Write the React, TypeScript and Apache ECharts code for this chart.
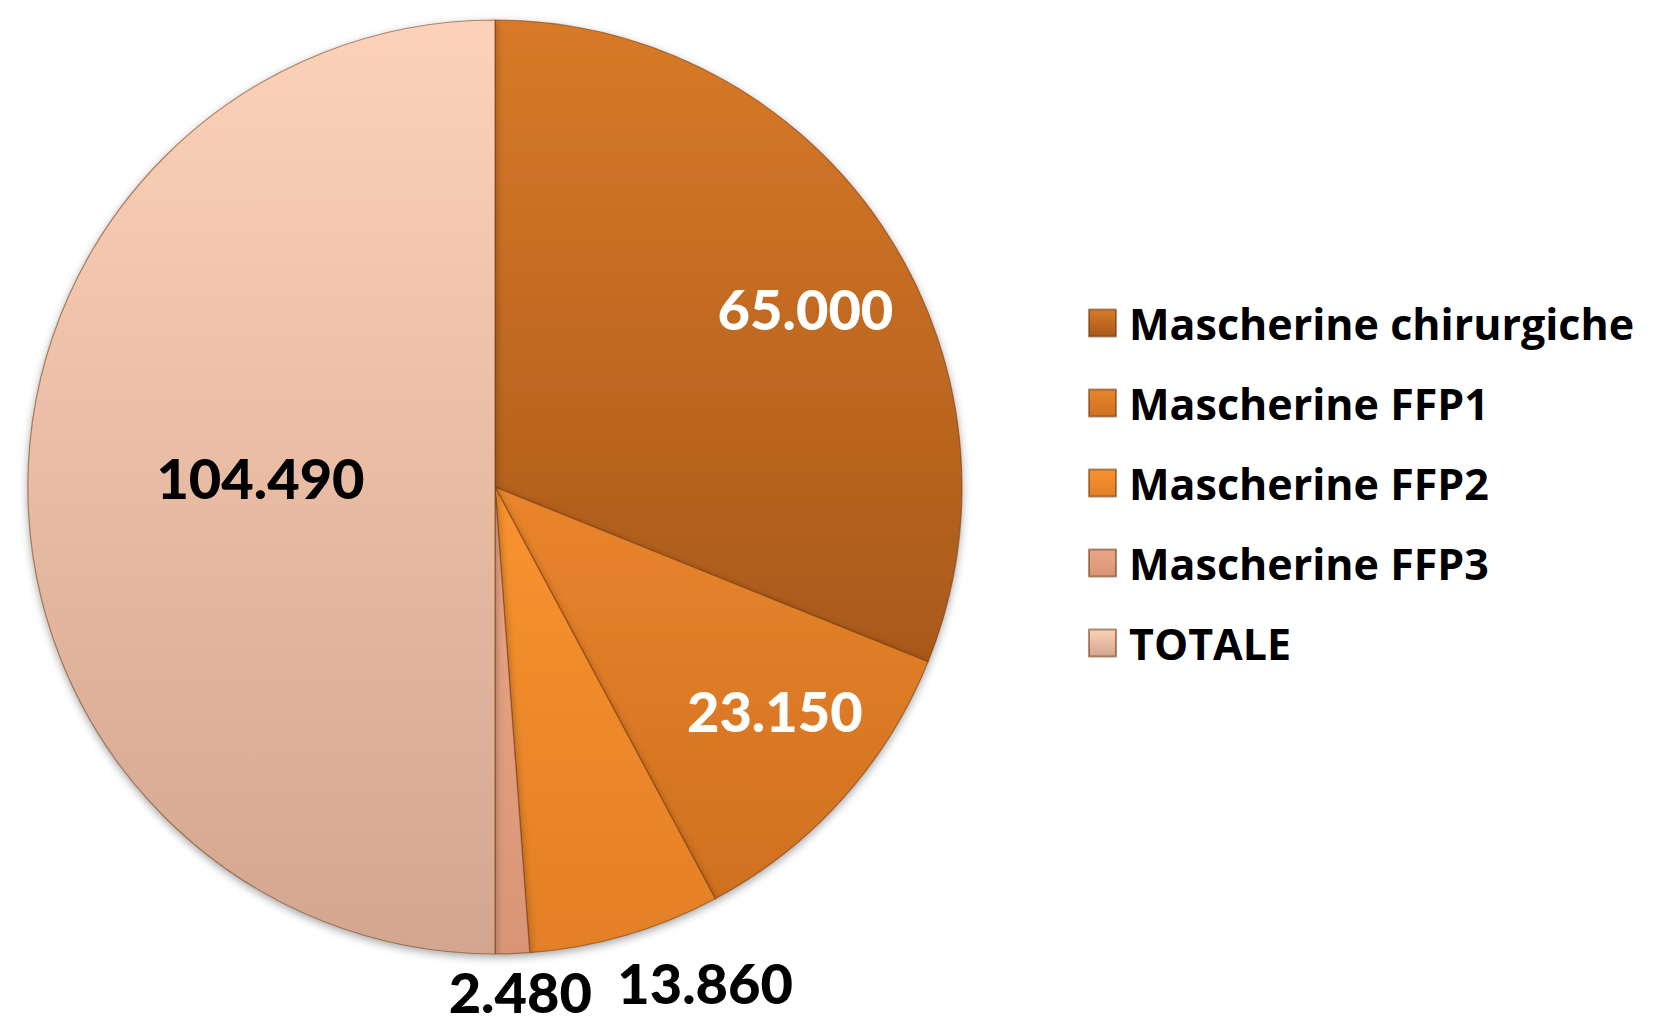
import React, { useEffect, useRef } from "react";
import * as echarts from "echarts";

const categories = [
  "Mascherine chirurgiche",
  "Mascherine FFP1",
  "Mascherine FFP2",
  "Mascherine FFP3",
  "TOTALE",
];
const values = [65000, 23150, 13860, 2480, 104490];
const labelTexts = ["65.000", "23.150", "13.860", "2.480", "104.490"];

const gradTop = ["#D87A29", "#E9852D", "#F8932F", "#EBA586", "#FCD2B8"];
const gradBottom = ["#A95919", "#D0701F", "#E37F26", "#D89677", "#D3A68F"];

const FONT = "Lato, 'Open Sans', sans-serif";
const LEGEND_FONT = "'Open Sans', Lato, sans-serif";

function grad(i: number) {
  return new echarts.graphic.LinearGradient(0, 0, 0, 1, [
    { offset: 0, color: gradTop[i] },
    { offset: 1, color: gradBottom[i] },
  ]);
}

export default function App() {
  const ref = useRef<HTMLDivElement>(null);
  useEffect(() => {
    if (!ref.current) return;
    const chart = echarts.init(ref.current, undefined, { renderer: "svg" });
    const center = [495, 487];
    const R = 467;
    const labelBase = {
      fontFamily: FONT,
      fontWeight: 900 as any,
      fontSize: 56,
    };
    const mainData = categories.map((name, i) => ({
      name,
      value: values[i],
      itemStyle: { color: grad(i) },
      label:
        i === 4
          ? { show: true, position: "inside", formatter: labelTexts[i], color: "#000", ...labelBase }
          : { show: false },
    }));
    const innerRingData = categories.map((name, i) => ({
      name,
      value: values[i],
      label:
        i === 0 || i === 1
          ? { show: true, position: "inside", formatter: labelTexts[i], color: "#fff", ...labelBase }
          : { show: false },
    }));
    const outerRingData = categories.map((name, i) => ({
      name,
      value: values[i],
      label:
        i === 2 || i === 3
          ? {
              show: true,
              position: "inside",
              formatter: labelTexts[i],
              color: "#000",
              ...labelBase,
              lineHeight: 44,
            }
          : { show: false },
    }));
    const overlayCommon = {
      type: "pie" as const,
      center,
      startAngle: 90,
      clockwise: true,
      silent: true,
      labelLine: { show: false },
      itemStyle: { color: "rgba(0,0,0,0)", borderWidth: 0 },
      emphasis: { disabled: true },
      z: 5,
    };
    chart.setOption({
      animation: false,
      backgroundColor: "#ffffff",
      legend: {
        data: categories,
        orient: "vertical",
        left: 1083,
        top: 294,
        icon: "rect",
        itemWidth: 27,
        itemHeight: 27,
        itemGap: 32,
        selectedMode: false,
        textStyle: {
          fontFamily: LEGEND_FONT,
          fontWeight: 700,
          fontSize: 43,
          color: "#000",
          lineHeight: 48,
          padding: [0, 0, 0, 8],
        },
      },
      series: [
        {
          type: "pie",
          center,
          radius: [0, R],
          startAngle: 90,
          clockwise: true,
          data: mainData,
          labelLine: { show: false },
          labelLayout: (p: any) => (p.dataIndex === 4 ? { dx: 2, dy: -10 } : {}),
          itemStyle: {
            borderColor: "rgba(110,55,15,0.55)",
            borderWidth: 1.2,
            shadowColor: "rgba(0,0,0,0.35)",
            shadowBlur: 8,
            shadowOffsetY: 3,
          },
          emphasis: { disabled: true },
        },
        {
          ...overlayCommon,
          radius: [252, R],
          data: innerRingData,
          labelLayout: (p: any) =>
            p.dataIndex === 0 ? { dx: 10, dy: 24 } : p.dataIndex === 1 ? { dx: 10, dy: -19 } : {},
        },
        {
          ...overlayCommon,
          radius: [R, 560],
          data: outerRingData,
          labelLayout: (p: any) =>
            p.dataIndex === 2 ? { dx: 66, dy: 0 } : p.dataIndex === 3 ? { dx: 6, dy: -12 } : {},
        },
      ],
    });
    return () => chart.dispose();
  }, []);
  return (
    <div
      ref={ref}
      style={{ position: "absolute", left: 0, top: 0, width: 1658, height: 1026 }}
    />
  );
}
